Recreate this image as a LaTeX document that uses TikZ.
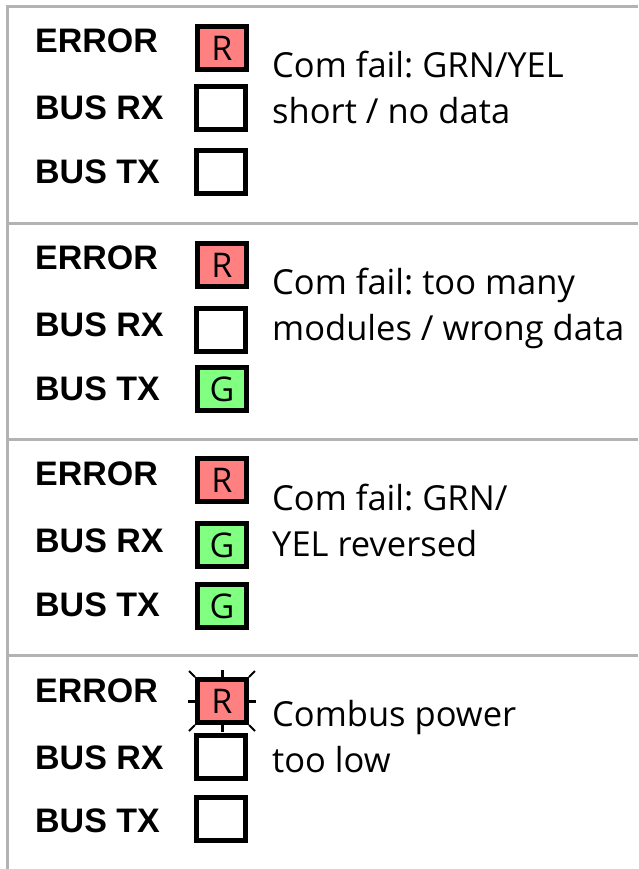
\documentclass[tikz,border=0pt]{standalone}
\usepackage{fontspec}
\setmainfont{Open Sans}
\newfontfamily\labelfont{Liberation Sans}
\frenchspacing
\definecolor{framegray}{HTML}{B3B3B3}
\definecolor{ledred}{HTML}{FF8080}
\definecolor{ledgreen}{HTML}{80FF80}
\tikzset{
  frameline/.style={draw=framegray, line width=3pt},
  ledlabel/.style={font=\labelfont\bfseries\fontsize{34}{34}\selectfont, anchor=base west, inner sep=0pt},
  led/.style={draw, line width=5pt, minimum width=49pt, minimum height=43pt, inner sep=0pt,
    font=\fontsize{34}{34}\selectfont},
  ledred/.style={led, fill=ledred},
  ledgreen/.style={led, fill=ledgreen},
  ledoff/.style={led, fill=white},
  desc/.style={font=\fontsize{34.5}{34.5}\selectfont, anchor=base west, inner sep=0pt},
  ray/.style={line width=3pt},
  diagray/.style={line width=1.8pt},
}
\newcommand{\ledtxt}[1]{\raisebox{-3pt}{#1}}
\begin{document}
\begin{tikzpicture}[x=1pt,y=-1pt]
  \useasboundingbox (0,0) rectangle (638,869);
  % outer frame and separators
  \coordinate (tl) at (7,6.5);
  \coordinate (tr) at (638,6.5);
  \coordinate (bl) at (7,869);
  \draw[frameline] (tr) -- (tl) -- (bl);
  \foreach \y/\n in {223.5/a,439.5/b,655.5/c} {
    \coordinate (s\n l) at (7,\y);
    \coordinate (s\n r) at (638,\y);
    \draw[frameline] (s\n l) -- (s\n r);
  }

  % panel 1
  \node[ledlabel] (p1lerr) at (35,53) {ERROR};
  \node[ledlabel] (p1lrx) at (35,120) {BUS RX};
  \node[ledlabel] (p1ltx) at (35,183) {BUS TX};
  \node[ledred] (p1err) at (222,48) {\ledtxt{R}};
  \node[ledoff] (p1rx) at (221,108) {};
  \node[ledoff] (p1tx) at (221,172) {};
  \node[desc] (p1d1) at (272,78) {Com fail: GRN/YEL};
  \node[desc] (p1d2) at (272,124) {short / no data};

  % panel 2
  \node[ledlabel] (p2lerr) at (35,269) {ERROR};
  \node[ledlabel] (p2lrx) at (35,336) {BUS RX};
  \node[ledlabel] (p2ltx) at (35,400) {BUS TX};
  \node[ledred] (p2err) at (222,265) {\ledtxt{R}};
  \node[ledoff] (p2rx) at (221,330) {};
  \node[ledgreen] (p2tx) at (222,389) {\ledtxt{G}};
  \node[desc] (p2d1) at (272,294) {Com fail: too many};
  \node[desc] (p2d2) at (272,340) {modules / wrong data};

  % panel 3
  \node[ledlabel] (p3lerr) at (35,485) {ERROR};
  \node[ledlabel] (p3lrx) at (35,552) {BUS RX};
  \node[ledlabel] (p3ltx) at (35,616) {BUS TX};
  \node[ledred] (p3err) at (222,480) {\ledtxt{R}};
  \node[ledgreen] (p3rx) at (222,545) {\ledtxt{G}};
  \node[ledgreen] (p3tx) at (222,606) {\ledtxt{G}};
  \node[desc] (p3d1) at (272,510) {Com fail: GRN/};
  \node[desc] (p3d2) at (272,556) {YEL reversed};

  % panel 4 (blinking error LED)
  \node[ledlabel] (p4lerr) at (35,702) {ERROR};
  \node[ledlabel] (p4lrx) at (35,769) {BUS RX};
  \node[ledlabel] (p4ltx) at (35,832) {BUS TX};
  \node[ledred] (p4err) at (222,701) {\ledtxt{R}};
  \node[ledoff] (p4rx) at (221,757) {};
  \node[ledoff] (p4tx) at (221,819) {};
  \node[desc] (p4d1) at (272,726) {Combus power};
  \node[desc] (p4d2) at (272,772) {too low};
  \draw[ray] (p4err.north) -- ++(0,-7);
  \draw[ray] (p4err.south) -- ++(0,7);
  \draw[ray] (p4err.west) -- ++(-7,0);
  \draw[ray] (p4err.east) -- ++(7,0);
  \draw[diagray] (p4err.north west) -- ++(-6,-6);
  \draw[diagray] (p4err.north east) -- ++(6,-6);
  \draw[diagray] (p4err.south west) -- ++(-6,6);
  \draw[diagray] (p4err.south east) -- ++(6,6);
\end{tikzpicture}
\end{document}
